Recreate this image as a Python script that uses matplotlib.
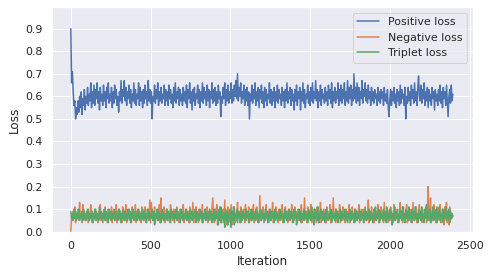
"""
Courbes de perte (positive / negative / triplet) au fil des iterations.
"""

import matplotlib

matplotlib.use("Agg")
import matplotlib.pyplot as plt
import numpy as np
import seaborn as sns

# Valeurs, une valeur toutes les 5 iterations
# (une ligne = 50 iterations)
positive_loss = [
    0.90, 0.66, 0.71, 0.62, 0.56, 0.58, 0.50, 0.55, 0.52, 0.58,
    0.53, 0.60, 0.55, 0.62, 0.52, 0.59, 0.56, 0.63, 0.54, 0.60,
    0.57, 0.64, 0.56, 0.61, 0.58, 0.66, 0.55, 0.62, 0.57, 0.65,
    0.56, 0.63, 0.59, 0.66, 0.57, 0.62, 0.54, 0.64, 0.58, 0.61,
    0.56, 0.65, 0.58, 0.62, 0.55, 0.64, 0.59, 0.66, 0.57, 0.61,
    0.58, 0.64, 0.55, 0.62, 0.57, 0.65, 0.59, 0.63, 0.56, 0.60,
    0.53, 0.62, 0.58, 0.67, 0.57, 0.63, 0.60, 0.67, 0.58, 0.64,
    0.56, 0.62, 0.59, 0.65, 0.57, 0.63, 0.55, 0.61, 0.58, 0.66,
    0.57, 0.63, 0.56, 0.61, 0.59, 0.66, 0.56, 0.64, 0.58, 0.62,
    0.55, 0.63, 0.57, 0.65, 0.59, 0.62, 0.56, 0.67, 0.58, 0.63,
    0.57, 0.62, 0.50, 0.60, 0.58, 0.65, 0.57, 0.63, 0.59, 0.66,
    0.56, 0.62, 0.58, 0.64, 0.57, 0.61, 0.59, 0.65, 0.56, 0.63,
    0.58, 0.62, 0.56, 0.65, 0.59, 0.63, 0.57, 0.61, 0.55, 0.64,
    0.58, 0.66, 0.57, 0.62, 0.59, 0.64, 0.56, 0.63, 0.58, 0.61,
    0.56, 0.64, 0.58, 0.62, 0.57, 0.65, 0.55, 0.63, 0.59, 0.66,
    0.57, 0.62, 0.54, 0.63, 0.58, 0.64, 0.56, 0.61, 0.59, 0.65,
    0.57, 0.63, 0.55, 0.62, 0.58, 0.66, 0.57, 0.64, 0.59, 0.62,
    0.56, 0.65, 0.58, 0.63, 0.55, 0.62, 0.59, 0.66, 0.57, 0.63,
    0.58, 0.64, 0.56, 0.62, 0.57, 0.65, 0.59, 0.62, 0.51, 0.60,
    0.57, 0.64, 0.59, 0.66, 0.56, 0.63, 0.58, 0.65, 0.57, 0.62,
    0.59, 0.66, 0.57, 0.63, 0.58, 0.65, 0.60, 0.67, 0.59, 0.70,
    0.58, 0.64, 0.60, 0.66, 0.57, 0.62, 0.59, 0.65, 0.56, 0.63,
    0.58, 0.64, 0.56, 0.62, 0.50, 0.61, 0.58, 0.65, 0.57, 0.63,
    0.59, 0.66, 0.56, 0.62, 0.58, 0.64, 0.55, 0.63, 0.59, 0.65,
    0.57, 0.62, 0.55, 0.64, 0.58, 0.63, 0.56, 0.61, 0.59, 0.66,
    0.57, 0.63, 0.56, 0.62, 0.58, 0.64, 0.55, 0.62, 0.58, 0.65,
    0.57, 0.63, 0.59, 0.61, 0.56, 0.64, 0.58, 0.62, 0.55, 0.63,
    0.58, 0.66, 0.57, 0.62, 0.59, 0.64, 0.56, 0.63, 0.58, 0.61,
    0.54, 0.63, 0.58, 0.65, 0.56, 0.62, 0.59, 0.64, 0.54, 0.62,
    0.58, 0.66, 0.57, 0.63, 0.55, 0.61, 0.59, 0.65, 0.57, 0.62,
    0.56, 0.64, 0.58, 0.66, 0.57, 0.62, 0.59, 0.67, 0.58, 0.63,
    0.55, 0.62, 0.58, 0.65, 0.56, 0.63, 0.59, 0.61, 0.57, 0.64,
    0.58, 0.62, 0.56, 0.65, 0.59, 0.63, 0.57, 0.66, 0.55, 0.62,
    0.58, 0.64, 0.57, 0.62, 0.59, 0.66, 0.56, 0.63, 0.58, 0.65,
    0.57, 0.63, 0.59, 0.66, 0.56, 0.62, 0.58, 0.67, 0.57, 0.64,
    0.59, 0.65, 0.56, 0.63, 0.58, 0.70, 0.59, 0.64, 0.57, 0.66,
    0.58, 0.64, 0.56, 0.62, 0.59, 0.67, 0.57, 0.63, 0.60, 0.66,
    0.58, 0.63, 0.57, 0.65, 0.59, 0.62, 0.56, 0.64, 0.58, 0.62,
    0.57, 0.63, 0.59, 0.61, 0.56, 0.64, 0.58, 0.62, 0.57, 0.63,
    0.59, 0.62, 0.56, 0.64, 0.58, 0.61, 0.57, 0.63, 0.55, 0.51,
    0.59, 0.63, 0.56, 0.62, 0.58, 0.64, 0.57, 0.61, 0.55, 0.63,
    0.58, 0.62, 0.56, 0.65, 0.57, 0.63, 0.59, 0.61, 0.56, 0.64,
    0.50, 0.60, 0.57, 0.64, 0.58, 0.62, 0.56, 0.65, 0.59, 0.63,
    0.57, 0.66, 0.58, 0.62, 0.56, 0.64, 0.69, 0.60, 0.58, 0.65,
    0.57, 0.63, 0.59, 0.66, 0.56, 0.62, 0.58, 0.64, 0.55, 0.63,
    0.58, 0.61, 0.56, 0.64, 0.59, 0.62, 0.54, 0.63, 0.58, 0.61,
    0.56, 0.63, 0.58, 0.65, 0.57, 0.62, 0.55, 0.64, 0.59, 0.62,
    0.56, 0.65, 0.58, 0.51, 0.60, 0.63, 0.57, 0.65, 0.58, 0.61,
]

negative_loss = [
    0.00, 0.07, 0.05, 0.09, 0.06, 0.11, 0.04, 0.08, 0.06, 0.10,
    0.05, 0.13, 0.06, 0.08, 0.04, 0.12, 0.06, 0.09, 0.05, 0.08,
    0.06, 0.10, 0.04, 0.08, 0.06, 0.12, 0.05, 0.09, 0.04, 0.07,
    0.06, 0.10, 0.05, 0.08, 0.04, 0.09, 0.06, 0.12, 0.05, 0.08,
    0.04, 0.09, 0.06, 0.11, 0.05, 0.08, 0.04, 0.10, 0.06, 0.08,
    0.05, 0.11, 0.04, 0.09, 0.06, 0.08, 0.05, 0.12, 0.04, 0.09,
    0.06, 0.10, 0.05, 0.08, 0.04, 0.11, 0.06, 0.09, 0.05, 0.12,
    0.04, 0.08, 0.06, 0.10, 0.05, 0.09, 0.04, 0.11, 0.06, 0.08,
    0.05, 0.12, 0.04, 0.09, 0.06, 0.10, 0.05, 0.08, 0.04, 0.11,
    0.06, 0.09, 0.05, 0.11, 0.04, 0.08, 0.06, 0.10, 0.05, 0.14,
    0.04, 0.13, 0.06, 0.09, 0.05, 0.11, 0.04, 0.08, 0.06, 0.10,
    0.05, 0.12, 0.04, 0.15, 0.06, 0.09, 0.05, 0.11, 0.04, 0.08,
    0.06, 0.10, 0.05, 0.09, 0.04, 0.12, 0.06, 0.08, 0.05, 0.10,
    0.04, 0.09, 0.06, 0.11, 0.05, 0.08, 0.04, 0.10, 0.06, 0.09,
    0.05, 0.12, 0.04, 0.08, 0.06, 0.10, 0.05, 0.09, 0.04, 0.11,
    0.06, 0.08, 0.05, 0.13, 0.04, 0.09, 0.06, 0.11, 0.05, 0.08,
    0.04, 0.10, 0.06, 0.09, 0.05, 0.12, 0.04, 0.08, 0.06, 0.10,
    0.05, 0.11, 0.04, 0.09, 0.06, 0.08, 0.05, 0.10, 0.15, 0.06,
    0.04, 0.10, 0.06, 0.12, 0.03, 0.09, 0.05, 0.11, 0.04, 0.08,
    0.06, 0.10, 0.04, 0.14, 0.05, 0.09, 0.03, 0.11, 0.06, 0.08,
    0.04, 0.12, 0.03, 0.09, 0.06, 0.11, 0.04, 0.08, 0.05, 0.13,
    0.06, 0.09, 0.04, 0.11, 0.05, 0.08, 0.06, 0.10, 0.04, 0.12,
    0.05, 0.09, 0.06, 0.11, 0.04, 0.08, 0.05, 0.10, 0.06, 0.12,
    0.04, 0.09, 0.05, 0.11, 0.06, 0.08, 0.04, 0.16, 0.05, 0.09,
    0.06, 0.11, 0.04, 0.08, 0.05, 0.12, 0.06, 0.09, 0.04, 0.10,
    0.05, 0.08, 0.06, 0.13, 0.04, 0.09, 0.05, 0.11, 0.06, 0.08,
    0.04, 0.10, 0.05, 0.09, 0.06, 0.12, 0.04, 0.08, 0.05, 0.11,
    0.06, 0.09, 0.04, 0.10, 0.05, 0.08, 0.06, 0.12, 0.04, 0.09,
    0.05, 0.11, 0.06, 0.08, 0.04, 0.10, 0.05, 0.09, 0.06, 0.12,
    0.04, 0.08, 0.05, 0.15, 0.06, 0.09, 0.04, 0.11, 0.05, 0.08,
    0.06, 0.12, 0.04, 0.09, 0.05, 0.10, 0.06, 0.08, 0.04, 0.11,
    0.05, 0.09, 0.06, 0.13, 0.04, 0.08, 0.05, 0.10, 0.06, 0.09,
    0.04, 0.11, 0.05, 0.08, 0.06, 0.12, 0.04, 0.09, 0.05, 0.15,
    0.06, 0.08, 0.04, 0.10, 0.05, 0.09, 0.06, 0.12, 0.04, 0.08,
    0.05, 0.11, 0.06, 0.09, 0.04, 0.10, 0.05, 0.08, 0.06, 0.12,
    0.04, 0.09, 0.05, 0.11, 0.06, 0.08, 0.04, 0.10, 0.05, 0.09,
    0.06, 0.12, 0.04, 0.08, 0.05, 0.10, 0.06, 0.09, 0.04, 0.11,
    0.05, 0.08, 0.06, 0.14, 0.04, 0.09, 0.05, 0.11, 0.06, 0.08,
    0.04, 0.10, 0.05, 0.09, 0.06, 0.12, 0.04, 0.08, 0.05, 0.11,
    0.06, 0.09, 0.04, 0.13, 0.05, 0.08, 0.06, 0.10, 0.04, 0.09,
    0.05, 0.11, 0.06, 0.08, 0.04, 0.12, 0.05, 0.09, 0.06, 0.10,
    0.04, 0.08, 0.05, 0.13, 0.06, 0.09, 0.04, 0.11, 0.05, 0.08,
    0.06, 0.12, 0.04, 0.09, 0.05, 0.10, 0.06, 0.08, 0.04, 0.13,
    0.05, 0.09, 0.06, 0.11, 0.04, 0.08, 0.05, 0.12, 0.06, 0.09,
    0.04, 0.10, 0.05, 0.08, 0.06, 0.11, 0.04, 0.09, 0.20, 0.05,
    0.06, 0.15, 0.04, 0.09, 0.05, 0.12, 0.06, 0.08, 0.04, 0.11,
    0.05, 0.09, 0.06, 0.12, 0.04, 0.08, 0.05, 0.10, 0.03, 0.11,
    0.06, 0.13, 0.04, 0.09, 0.03, 0.11, 0.05, 0.08, 0.06, 0.07,
]

triplet_loss = [
    0.09, 0.06, 0.08, 0.05, 0.10, 0.06, 0.09, 0.05, 0.08, 0.06,
    0.10, 0.05, 0.08, 0.06, 0.09, 0.05, 0.10, 0.06, 0.08, 0.05,
    0.09, 0.06, 0.10, 0.05, 0.08, 0.06, 0.09, 0.04, 0.08, 0.06,
    0.10, 0.05, 0.09, 0.06, 0.08, 0.05, 0.11, 0.06, 0.09, 0.05,
    0.08, 0.06, 0.10, 0.05, 0.09, 0.06, 0.08, 0.04, 0.10, 0.06,
    0.09, 0.05, 0.08, 0.06, 0.10, 0.05, 0.09, 0.06, 0.08, 0.05,
    0.10, 0.06, 0.09, 0.04, 0.08, 0.06, 0.10, 0.05, 0.09, 0.06,
    0.08, 0.05, 0.10, 0.06, 0.09, 0.04, 0.08, 0.06, 0.10, 0.05,
    0.09, 0.06, 0.08, 0.05, 0.10, 0.06, 0.09, 0.05, 0.08, 0.06,
    0.10, 0.05, 0.09, 0.06, 0.08, 0.04, 0.10, 0.06, 0.09, 0.05,
    0.08, 0.06, 0.10, 0.05, 0.09, 0.03, 0.08, 0.06, 0.10, 0.05,
    0.09, 0.06, 0.08, 0.04, 0.10, 0.06, 0.09, 0.05, 0.08, 0.06,
    0.10, 0.05, 0.09, 0.06, 0.08, 0.04, 0.10, 0.06, 0.09, 0.05,
    0.08, 0.06, 0.10, 0.05, 0.09, 0.06, 0.08, 0.04, 0.10, 0.06,
    0.09, 0.05, 0.08, 0.06, 0.10, 0.05, 0.09, 0.06, 0.08, 0.04,
    0.10, 0.06, 0.09, 0.05, 0.08, 0.06, 0.10, 0.04, 0.09, 0.06,
    0.08, 0.05, 0.10, 0.06, 0.09, 0.04, 0.08, 0.06, 0.10, 0.05,
    0.09, 0.06, 0.08, 0.05, 0.10, 0.06, 0.09, 0.04, 0.08, 0.06,
    0.10, 0.05, 0.09, 0.06, 0.08, 0.03, 0.10, 0.05, 0.11, 0.04,
    0.09, 0.06, 0.08, 0.02, 0.10, 0.05, 0.09, 0.03, 0.08, 0.06,
    0.10, 0.02, 0.09, 0.05, 0.11, 0.03, 0.08, 0.06, 0.10, 0.04,
    0.09, 0.06, 0.08, 0.04, 0.10, 0.05, 0.09, 0.06, 0.08, 0.05,
    0.10, 0.06, 0.09, 0.04, 0.08, 0.06, 0.10, 0.05, 0.09, 0.06,
    0.08, 0.05, 0.10, 0.06, 0.09, 0.04, 0.08, 0.06, 0.10, 0.05,
    0.09, 0.06, 0.08, 0.05, 0.10, 0.06, 0.09, 0.04, 0.08, 0.06,
    0.10, 0.05, 0.09, 0.06, 0.08, 0.04, 0.10, 0.06, 0.09, 0.05,
    0.08, 0.06, 0.10, 0.05, 0.09, 0.06, 0.08, 0.04, 0.10, 0.06,
    0.09, 0.05, 0.08, 0.06, 0.10, 0.05, 0.09, 0.06, 0.08, 0.04,
    0.10, 0.06, 0.09, 0.03, 0.08, 0.06, 0.10, 0.05, 0.09, 0.04,
    0.08, 0.06, 0.10, 0.05, 0.09, 0.06, 0.08, 0.04, 0.10, 0.06,
    0.09, 0.05, 0.11, 0.06, 0.08, 0.03, 0.10, 0.06, 0.09, 0.05,
    0.11, 0.04, 0.08, 0.06, 0.10, 0.05, 0.09, 0.06, 0.08, 0.04,
    0.10, 0.06, 0.09, 0.05, 0.08, 0.06, 0.10, 0.04, 0.09, 0.06,
    0.08, 0.05, 0.10, 0.06, 0.09, 0.04, 0.08, 0.06, 0.10, 0.05,
    0.09, 0.06, 0.08, 0.05, 0.10, 0.06, 0.09, 0.04, 0.08, 0.06,
    0.10, 0.05, 0.09, 0.06, 0.08, 0.04, 0.10, 0.06, 0.09, 0.05,
    0.08, 0.06, 0.10, 0.05, 0.09, 0.06, 0.08, 0.04, 0.10, 0.06,
    0.09, 0.05, 0.08, 0.06, 0.10, 0.05, 0.09, 0.06, 0.08, 0.04,
    0.10, 0.06, 0.11, 0.05, 0.08, 0.06, 0.10, 0.04, 0.09, 0.06,
    0.08, 0.05, 0.10, 0.06, 0.09, 0.04, 0.11, 0.06, 0.08, 0.05,
    0.10, 0.06, 0.09, 0.03, 0.08, 0.06, 0.11, 0.05, 0.09, 0.06,
    0.08, 0.04, 0.10, 0.06, 0.09, 0.05, 0.11, 0.06, 0.08, 0.04,
    0.10, 0.06, 0.09, 0.05, 0.11, 0.06, 0.08, 0.04, 0.10, 0.06,
    0.09, 0.05, 0.11, 0.06, 0.08, 0.04, 0.10, 0.06, 0.09, 0.05,
    0.11, 0.06, 0.08, 0.04, 0.10, 0.06, 0.12, 0.05, 0.09, 0.06,
    0.10, 0.04, 0.08, 0.06, 0.11, 0.05, 0.09, 0.06, 0.10, 0.04,
    0.09, 0.06, 0.11, 0.05, 0.08, 0.06, 0.10, 0.04, 0.09, 0.06,
    0.11, 0.05, 0.09, 0.06, 0.10, 0.04, 0.09, 0.06, 0.08, 0.07,
]

step = 5
x_ticks = [0, 500, 1000, 1500, 2000, 2500]
y_ticks = [0.0, 0.1, 0.2, 0.3, 0.4, 0.5, 0.6, 0.7, 0.8, 0.9]


def main() -> None:
    """Trace les trois pertes."""
    sns.set_theme()

    iterations = np.arange(len(positive_loss)) * step

    fig = plt.figure(figsize=(492 / 72, 276 / 72), dpi=72)
    ax = fig.add_axes([0.105, 0.1605, 0.856, 0.813])

    ax.plot(iterations, positive_loss, label="Positive loss")
    ax.plot(iterations, negative_loss, label="Negative loss")
    ax.plot(iterations, triplet_loss, label="Triplet loss")

    ax.set_xlim(-120, 2520)
    ax.set_ylim(0, 0.995)
    ax.set_xticks(x_ticks)
    ax.set_yticks(y_ticks)
    ax.set_xlabel("Iteration")
    ax.set_ylabel("Loss")
    ax.legend(loc="upper right")

    fig.savefig("out.png", dpi=72)
    plt.close(fig)


if __name__ == "__main__":
    main()
